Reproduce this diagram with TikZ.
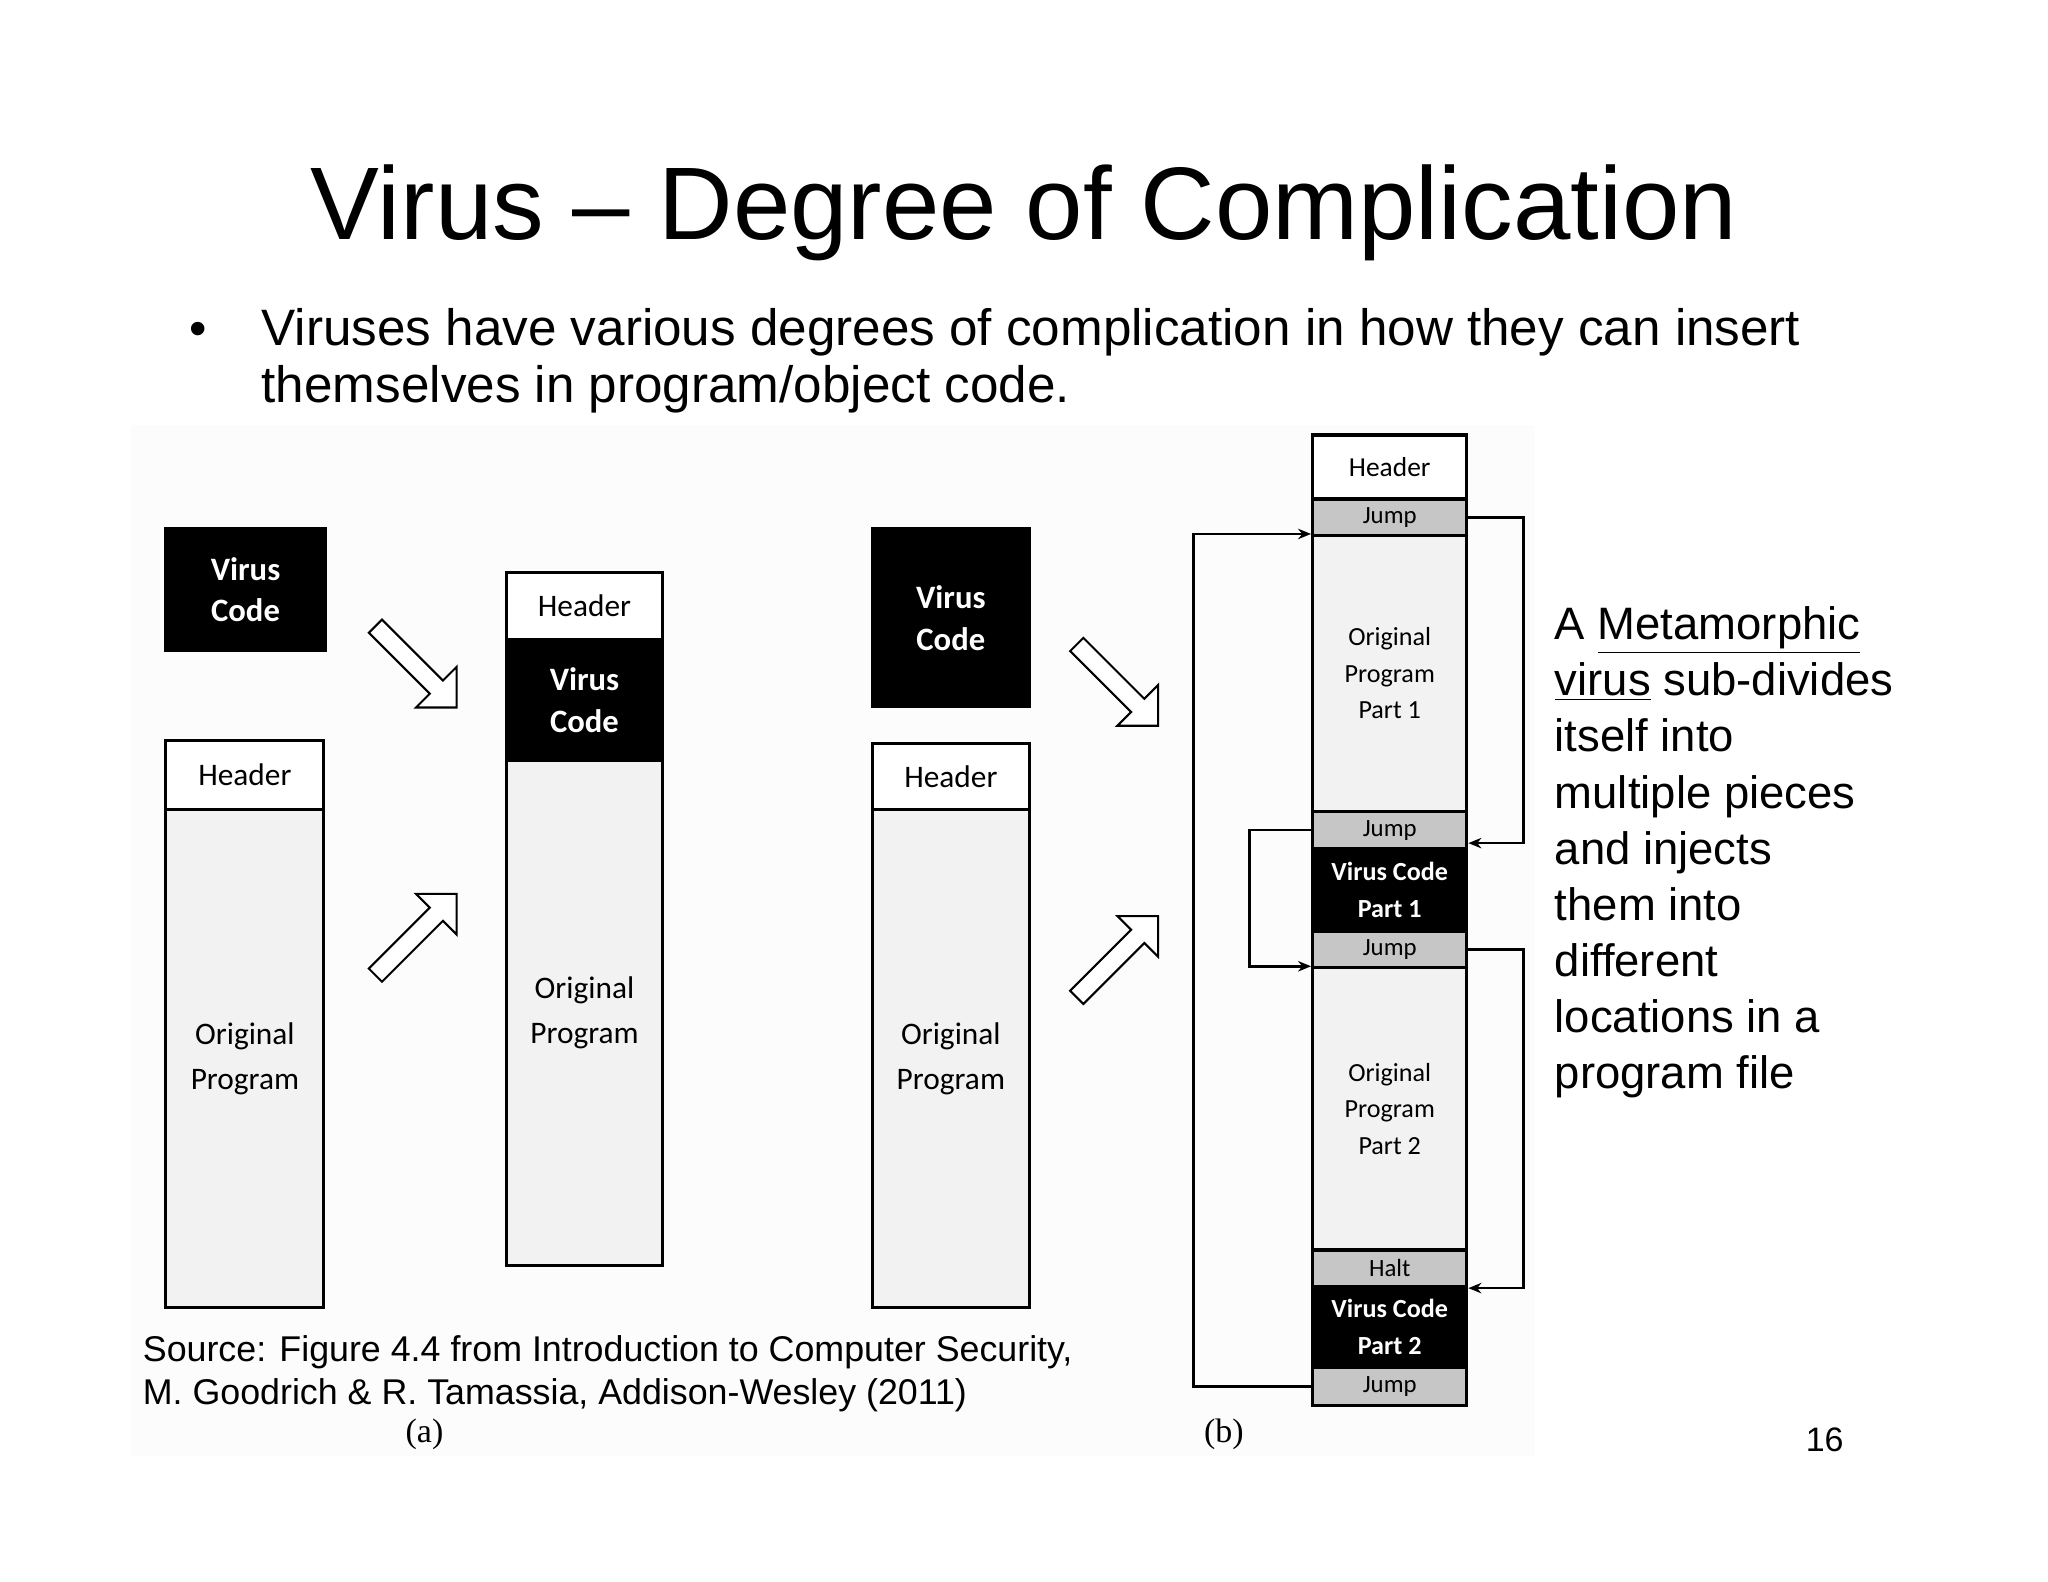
\documentclass[tikz,border=0pt]{standalone}
\usepackage{fontspec}
\setmainfont{Liberation Sans}
\newfontfamily\calf{Carlito}
\newfontfamily\serf{Liberation Serif}
\usetikzlibrary{shapes.arrows,arrows.meta}
\newcommand\bx[7]{%
\pgfmathsetmacro\bw{(#4-#2)*0.5}\pgfmathsetmacro\bh{(#5-#3)*0.5}%
\node[#6,minimum width=\bw pt,minimum height=\bh pt] (#1) at ({(#2+#4)/2},{(#3+#5)/2}) {#7};}
\tikzset{
 wbox/.style={draw,line width=1.2pt,fill=white,inner sep=0pt,align=center,font=\calf\fontsize{12}{13}\selectfont},
 lbox/.style={wbox,fill=gray!10,font=\calf\fontsize{12}{17}\selectfont},
 kbox/.style={wbox,fill=black,text=white,font=\calf\bfseries\fontsize{12.5}{16}\selectfont},
 sw/.style={wbox,font=\calf\fontsize{10.5}{12}\selectfont},
 sl/.style={lbox,font=\calf\fontsize{10}{14}\selectfont},
 sg/.style={wbox,fill=gray!45,font=\calf\fontsize{9.5}{11}\selectfont},
 sk/.style={kbox,font=\calf\bfseries\fontsize{10}{14}\selectfont},
 barrow/.style={draw,line width=0.8pt,fill=white,single arrow,minimum height=44pt,minimum width=22pt,single arrow head extend=5pt,inner sep=2pt},
 con/.style={line width=1pt,-{Stealth[length=5pt,width=4pt]}},
}
\begin{document}
\begin{tikzpicture}[x=0.5pt,y=-0.5pt]
\useasboundingbox[fill=white] (0,0) rectangle (1568,1211);
\fill[gray!2] (100,325) rectangle (1175,1115);
\node[font=\fontsize{39.5}{44}\selectfont] (title) at (784,163) {Virus -- Degree of Complication};
\node[font=\fontsize{19}{22}\selectfont] (bul) at (152,256) {•};
\node[anchor=north west,align=left,inner sep=0pt,font=\fontsize{19.6}{21.5}\selectfont] (btxt) at (200,236) {Viruses have various degrees of complication in how they can insert\\themselves in program/object code.};
% (a)
\bx{av}{127}{405}{249}{498}{kbox}{Virus\\Code}
\bx{ah}{127}{567}{248}{620}{wbox}{Header}
\bx{ap}{127}{620}{248}{1001}{lbox}{Original\\Program}
\node[barrow,rotate=-45] (ar1) at (316,508) {};
\node[barrow,rotate=45] (ar2) at (316,718) {};
\bx{mh}{388}{438}{507}{490}{wbox}{Header}
\bx{mv}{388}{490}{507}{582}{kbox}{Virus\\Code}
\bx{mp}{388}{582}{507}{969}{lbox}{Original\\Program}
\node[font=\serf\fontsize{13}{15}\selectfont] (la) at (325,1098) {(a)};
% (b)
\bx{bv}{668}{405}{788}{541}{kbox}{Virus\\Code}
\bx{bh}{668}{569}{788}{620}{wbox}{Header}
\bx{bp}{668}{620}{788}{1001}{lbox}{Original\\Program}
\node[barrow,rotate=-45] (br1) at (853,522) {};
\node[barrow,rotate=45] (br2) at (853,735) {};
\bx{h}{1005}{333}{1123}{382}{sw}{Header}
\bx{j1}{1005}{382}{1123}{410}{sg}{Jump}
\bx{p1}{1005}{410}{1123}{621}{sl}{Original\\Program\\Part 1}
\bx{j2}{1005}{621}{1123}{650}{sg}{Jump}
\bx{v1}{1005}{650}{1123}{713}{sk}{Virus Code\\Part 1}
\bx{j3}{1005}{713}{1123}{741}{sg}{Jump}
\bx{p2}{1005}{741}{1123}{957}{sl}{Original\\Program\\Part 2}
\bx{ht}{1005}{957}{1123}{985}{sg}{Halt}
\bx{v2}{1005}{985}{1123}{1047}{sk}{Virus Code\\Part 2}
\bx{j4}{1005}{1047}{1123}{1076}{sg}{Jump}
\draw[con] (j1.east) -- ++(42,0) |- ([yshift=-5pt]j2.east);
\draw[con] (j3.east) -- ++(42,0) |- (ht.south east);
\draw[con] (j4.west) -- ++(-90,0) |- (p1.north west);
\draw[con] (j2.west) -- ++(-47,0) |- (p2.north west);
\node[font=\serf\fontsize{13}{15}\selectfont] (lb) at (937,1098) {(b)};
\node[anchor=north west,align=left,inner sep=0pt,font=\fontsize{17.4}{21.5}\selectfont] (side) at (1190,464) {A \underline{Metamorphic}\\\underline{virus} sub-divides\\itself into\\multiple pieces\\and injects\\them into\\different\\locations in a\\program file};
\node[anchor=north west,align=left,inner sep=0pt,font=\fontsize{13.7}{16.5}\selectfont] (src) at (109,1022) {Source: Figure 4.4 from Introduction to Computer Security,\\M. Goodrich \& R. Tamassia, Addison-Wesley (2011)};
\node[font=\fontsize{13}{15}\selectfont] (pg) at (1397,1102) {16};
\end{tikzpicture}
\end{document}
